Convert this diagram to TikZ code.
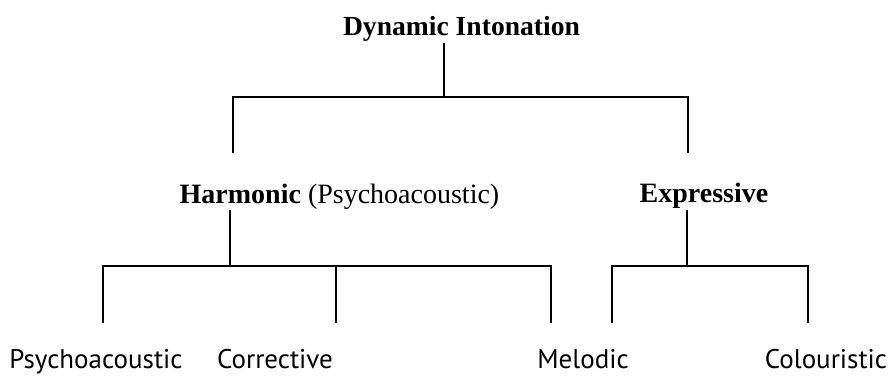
\documentclass[tikz,border=0pt]{standalone}
\usepackage{fontspec}
\setmainfont{Liberation Serif}
\newfontfamily\leaffont{PT Sans}
\usepackage{tikz}

\tikzset{
	head/.style={inner sep=0pt, anchor=base, font=\fontsize{27.6}{30}\selectfont\bfseries},
	branch/.style={inner sep=0pt, anchor=base, font=\fontsize{28}{30}\selectfont},
	leaf/.style={inner sep=0pt, anchor=base, font=\leaffont\fontsize{27}{30}\selectfont},
	rule/.style={line width=1.3pt}
}

\begin{document}
\begin{tikzpicture}[x=1pt, y=-1pt]
	\useasboundingbox (0,0) rectangle (891,376);

	\node[head] (dyn) at (461.5,35) {Dynamic Intonation};
	\node[branch] (harm) at (339.5,203) {\textbf{Harmonic} (Psychoacoustic)};
	\node[branch] (expr) at (704,202) {\textbf{Expressive}};
	\node[leaf] (psy) at (96,368) {Psychoacoustic};
	\node[leaf] (corr) at (275,368) {Corrective};
	\node[leaf] (melo) at (583,368) {Melodic};
	\node[leaf] (colo) at (826,368) {Colouristic};

	\coordinate (dynJoin) at (444,97);
	\coordinate (harmTop) at (233,153);
	\coordinate (exprTop) at (688,153);
	\coordinate (harmJoin) at (230,266);
	\coordinate (exprJoin) at (687,266);
	\coordinate (psyTop) at (103,323);
	\coordinate (corrTop) at (336,323);
	\coordinate (meloTop) at (551,323);
	\coordinate (lcolTop) at (612,323);
	\coordinate (coloTop) at (808,323);

	\draw[rule] ([yshift=-8pt]dyn.base -| dynJoin) -- (dynJoin);
	\draw[rule] (harmTop) |- (dynJoin) -| (exprTop);

	\draw[rule] ([yshift=-7pt]harm.base -| harmJoin) -- (harmJoin);
	\draw[rule] (psyTop) |- (harmJoin) -| (meloTop);
	\draw[rule] (corrTop) -- (corrTop |- harmJoin);

	\draw[rule] ([yshift=-8pt]expr.base -| exprJoin) -- (exprJoin);
	\draw[rule] (lcolTop) |- (exprJoin) -| (coloTop);
\end{tikzpicture}
\end{document}
